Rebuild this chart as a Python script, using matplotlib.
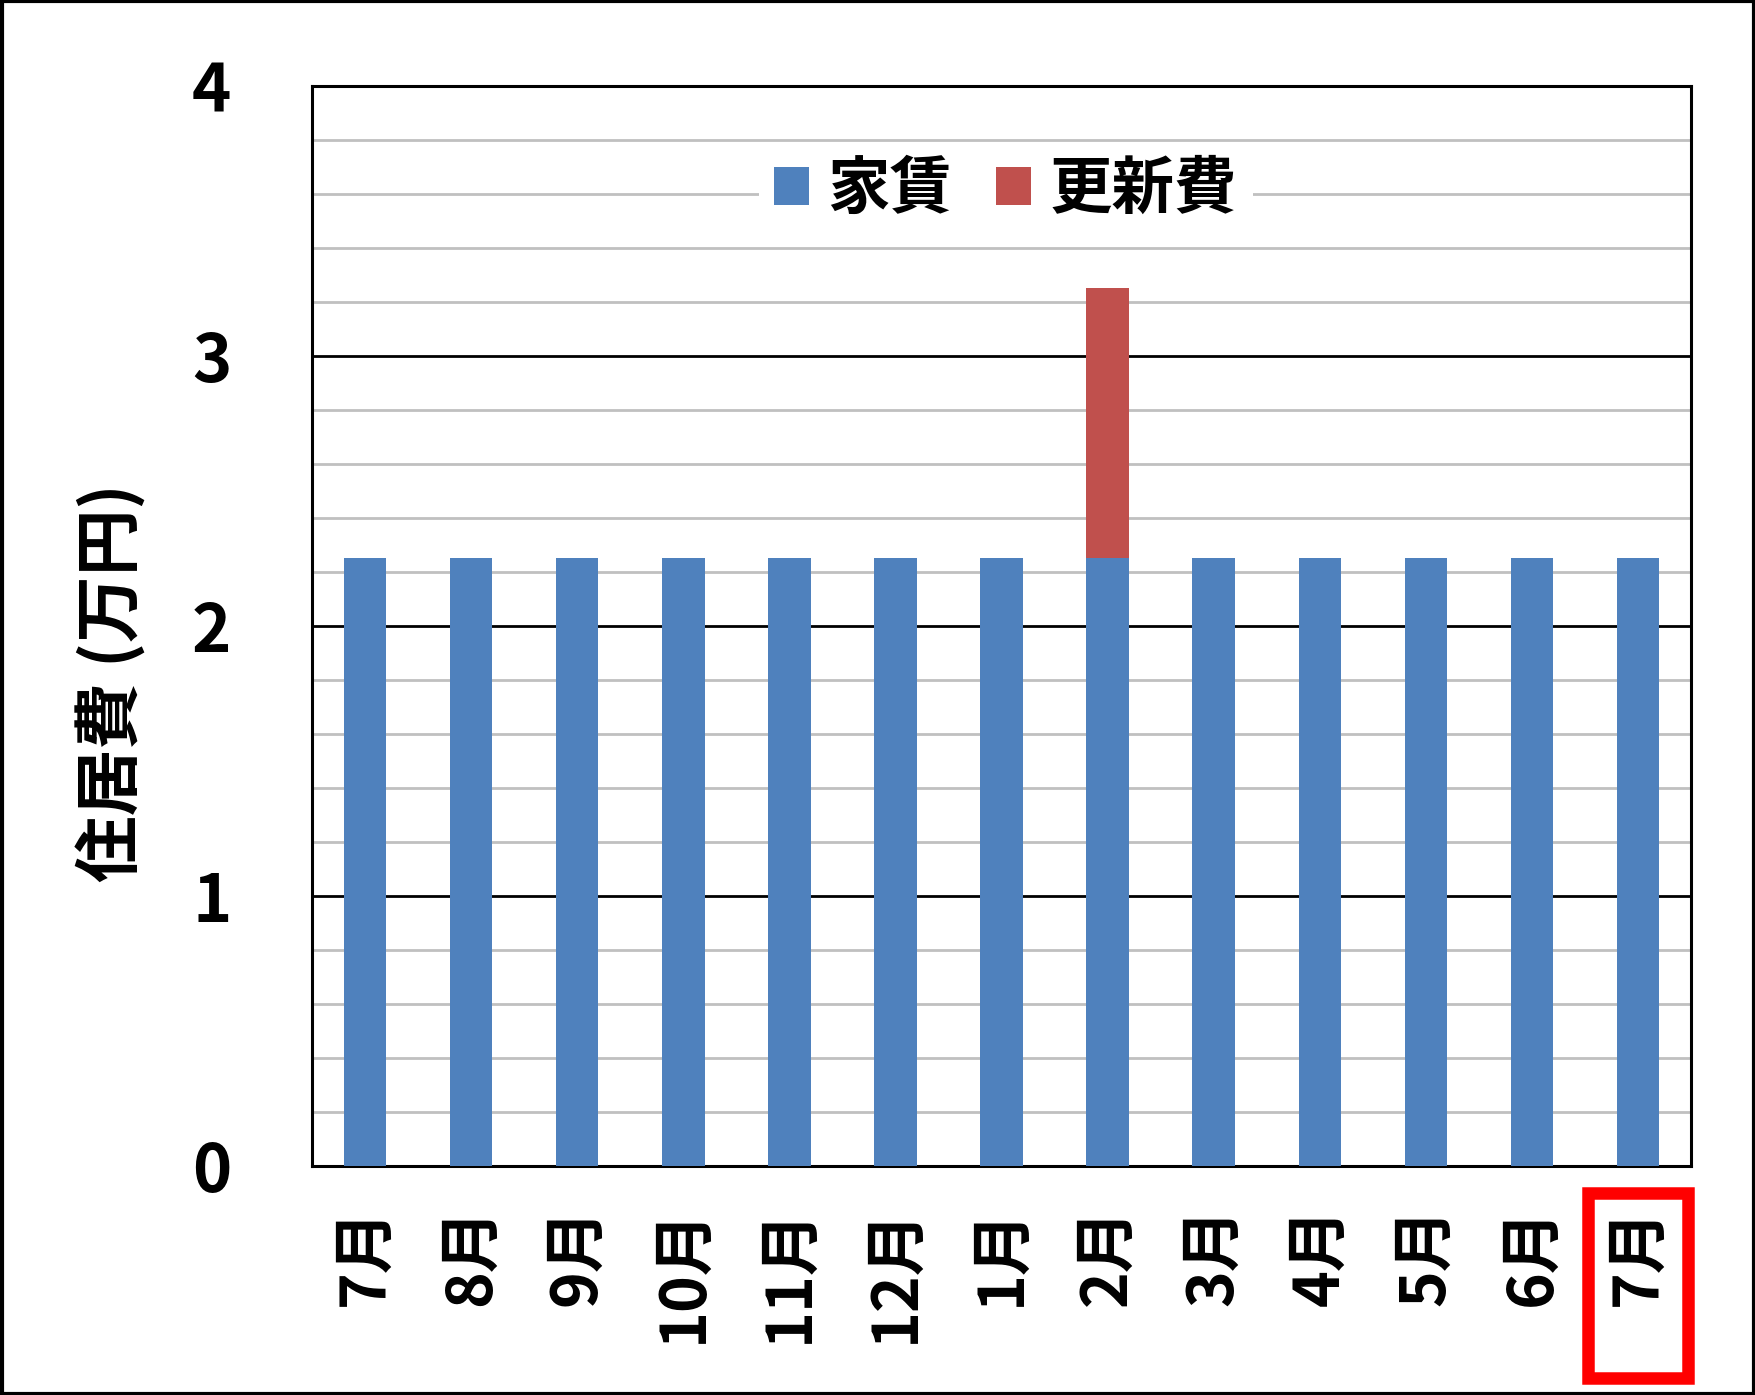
import matplotlib
matplotlib.use("Agg")
import matplotlib.pyplot as plt
import matplotlib.transforms as mtransforms
from matplotlib.patches import Rectangle
import numpy as np

plt.rcParams['font.family'] = ['Noto Sans CJK JP', 'DejaVu Sans']

months = ["7月", "8月", "9月", "10月", "11月", "12月", "1月", "2月", "3月", "4月", "5月", "6月", "7月"]
rent = [2.25] * 13
renewal = [0, 0, 0, 0, 0, 0, 0, 1.0, 0, 0, 0, 0, 0]
series_names = ["家賃", "更新費"]
yticks = [0, 1, 2, 3, 4]

fig = plt.figure(figsize=(17.56, 13.95), dpi=100)
ax = fig.add_axes([0.1777, 0.1642, 0.963 - 0.1777, 0.9384 - 0.1642])

x = np.arange(len(months))
ax.bar(x, rent, width=0.4, color="#4F81BD", label=series_names[0], zorder=3)
ax.bar(x, renewal, width=0.4, bottom=rent, color="#C0504D", label=series_names[1], zorder=3)

ax.set_xlim(-0.5, len(months) - 0.5)
ax.set_ylim(0, 4)
ax.set_yticks(yticks)
ax.set_yticks(np.arange(0, 4.01, 0.2), minor=True)
ax.yaxis.grid(True, which="minor", color="#c0c0c0", linewidth=2.0, zorder=1)
ax.yaxis.grid(True, which="major", color="black", linewidth=2.0, zorder=2)
ax.set_axisbelow(True)

ax.set_xticks(x)
ax.set_xticklabels(months, rotation=90, fontsize=45, fontweight="bold")
ax.set_yticklabels([str(v) for v in yticks], fontsize=48, fontweight="bold")
ax.tick_params(axis="x", length=0, pad=29)
ax.tick_params(axis="y", which="both", length=0, pad=58)
for lbl in ax.get_xticklabels():
    lbl.set_x(lbl.get_position()[0])

for s in ax.spines.values():
    s.set_linewidth(2.2)
    s.set_color("black")

ax.set_ylabel("住居費 (万円)", fontsize=48, fontweight="bold", va="center")
ax.yaxis.set_label_coords(-0.145, 0.447)

leg = ax.legend(loc="center", bbox_to_anchor=(0.503, 0.904), ncol=2, frameon=True,
                prop={"size": 45, "weight": "bold"}, handlelength=0.55, handleheight=0.55,
                handletextpad=0.3, columnspacing=0.7, borderpad=0.25, fancybox=False)
leg.get_frame().set_facecolor("white")
leg.get_frame().set_edgecolor("none")
leg.get_frame().set_alpha(1)

# red highlight box around last tick label
trans = mtransforms.blended_transform_factory(ax.transData, fig.transFigure)
rect = Rectangle((x[-1] - 0.47, 0.0125), 0.94, 0.1325, transform=trans, fill=False,
                 edgecolor="#FF0000", linewidth=9, clip_on=False)
fig.add_artist(rect)

# outer frame
frame = Rectangle((0.001, 0.001), 0.998, 0.998, transform=fig.transFigure, fill=False,
                  edgecolor="black", linewidth=3)
fig.add_artist(frame)

fig.savefig("out.png", dpi=100, facecolor="white")
